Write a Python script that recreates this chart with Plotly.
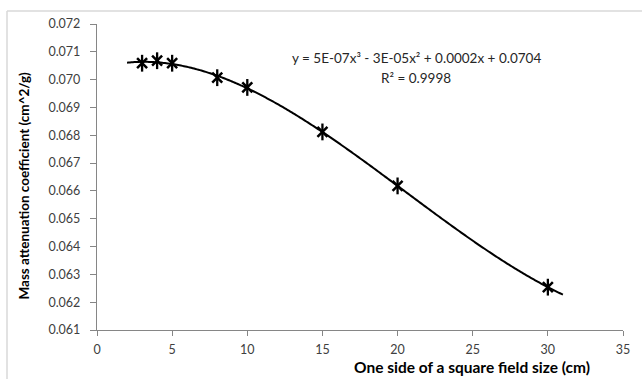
import numpy as np
import plotly.graph_objects as go

field_size = [3, 4, 5, 8, 10, 15, 20, 30]
mass_att = [0.07059, 0.07068, 0.07059, 0.07007, 0.06972, 0.06812, 0.06618, 0.06254]
x_ticks = [0, 5, 10, 15, 20, 25, 30, 35]
y_ticks = [0.061, 0.062, 0.063, 0.064, 0.065, 0.066, 0.067, 0.068, 0.069, 0.070, 0.071, 0.072]
trend_range = [2, 31]
eq_text = "y = 5E-07x\u00b3 - 3E-05x\u00b2 + 0.0002x + 0.0704"
r2_text = "R\u00b2 = 0.9998"

coef = np.polyfit(field_size, mass_att, 3)
xt = np.linspace(trend_range[0], trend_range[1], 300)
yt = np.polyval(coef, xt)

FONT = "Lato, Open Sans, sans-serif"
fig = go.Figure()
fig.add_trace(go.Scatter(x=xt, y=yt, mode="lines", line=dict(color="black", width=2, simplify=False),
                         hoverinfo="skip"))
fig.add_trace(go.Scatter(x=field_size, y=mass_att, mode="markers",
                         marker=dict(symbol="x-thin-open", size=10, color="black",
                                     line=dict(color="black", width=2.5))))
fig.add_trace(go.Scatter(x=field_size, y=mass_att, mode="markers",
                         marker=dict(symbol="line-ns-open", size=12, color="black",
                                     line=dict(color="black", width=2.3))))

W, H = 642, 379
L, R, T, B = 97, 19, 24, 49
pw, ph = W - L - R, H - T - B

fig.update_layout(
    width=W, height=H, showlegend=False,
    margin=dict(l=L, r=R, t=T, b=B),
    paper_bgcolor="white", plot_bgcolor="white",
    font=dict(family=FONT, size=12.5, color="#404040"),
    xaxis=dict(range=[0, 35], tickvals=x_ticks, ticktext=[str(v) for v in x_ticks],
               showgrid=False, zeroline=False, showline=True, linecolor="#868686", linewidth=1.3,
               ticks="outside", ticklen=5, tickcolor="#868686", ticklabelstandoff=3,
               tickfont=dict(size=12.5, color="#404040")),
    yaxis=dict(range=[0.061, 0.072], tickvals=y_ticks, ticktext=[f"{v:.3f}" for v in y_ticks],
               showgrid=False, zeroline=False, showline=True, linecolor="#868686", linewidth=1.3,
               ticks="outside", ticklen=6, tickcolor="#868686", ticklabelstandoff=7,
               tickfont=dict(size=12.5, color="#404040")),
)

def px(xp):
    return (xp - L) / pw

def py(yp):
    return 1 - (yp - T) / ph

ann = dict(xref="paper", yref="paper", showarrow=False, xanchor="center", yanchor="middle")
fig.add_annotation(x=px(416), y=py(58), text=eq_text, font=dict(size=13.5, color="#262626", family=FONT), **ann)
fig.add_annotation(x=px(416), y=py(78), text=r2_text, font=dict(size=13.5, color="#262626", family=FONT), **ann)
fig.add_annotation(x=px(471.5), y=py(367), text="<b>One side of a square field size (cm)</b>",
                   font=dict(size=15.5, color="black", family=FONT), **ann)
fig.add_annotation(x=px(23), y=py(185.5), textangle=-90, text="<b>Mass attenuation coefficient (cm^2/g)</b>",
                   font=dict(size=13.5, color="black", family=FONT), **ann)

# outer chart frame (left and top edges visible)
fig.add_shape(type="line", xref="paper", yref="paper", x0=px(7), x1=px(7), y0=py(H + 5), y1=py(11),
              line=dict(color="#d9d9d9", width=1.5))
fig.add_shape(type="line", xref="paper", yref="paper", x0=px(7), x1=px(W + 5), y0=py(11), y1=py(11),
              line=dict(color="#d9d9d9", width=1.5))

fig.write_html("out.html")
